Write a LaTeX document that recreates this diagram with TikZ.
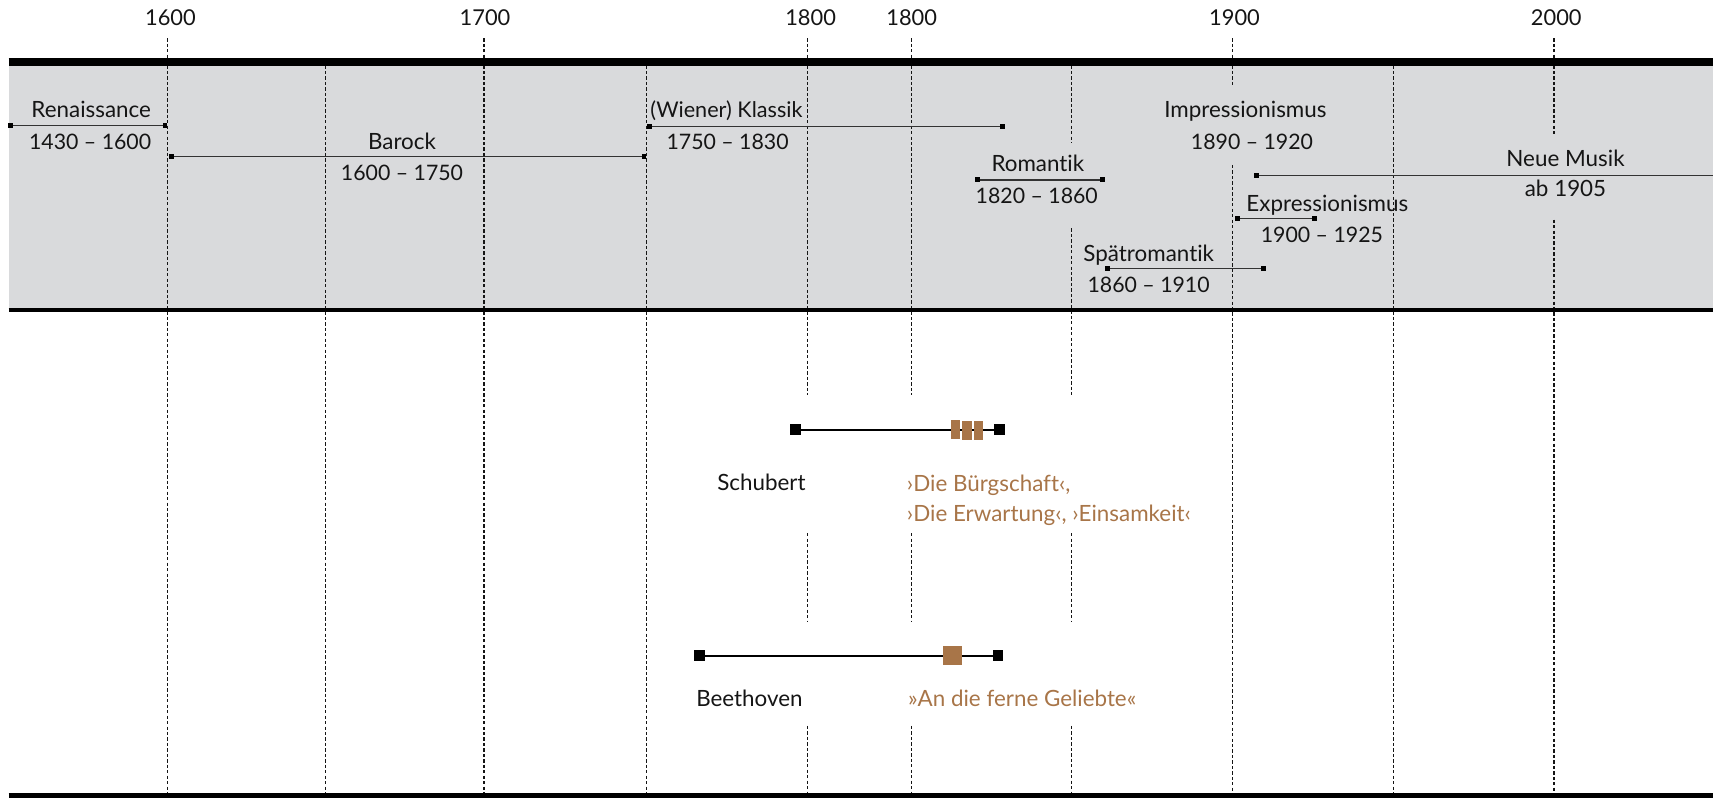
\documentclass[tikz,border=0pt]{standalone}
\usepackage{fontspec}
\setmainfont{Lato}[Ligatures=NoCommon]
\definecolor{band}{HTML}{D9DADC}
\definecolor{brn}{HTML}{A87548}
\definecolor{ink}{HTML}{151515}
\definecolor{pline}{HTML}{333333}
\begin{document}
\begin{tikzpicture}[x=1pt,y=-1pt,
  lbl/.style={font=\fontsize{20.5}{25}\selectfont, text=ink, inner sep=0pt, anchor=base},
  dat/.style={lbl, font=\fontsize{19.5}{24}\selectfont},
  yr/.style={lbl, font=\fontsize{20}{24}\selectfont},
  lbll/.style={lbl, anchor=base west},
  work/.style={lbll, text=brn},
  grid/.style={draw=ink, line width=1.1pt, dash pattern=on 3pt off 2pt},
  endsq/.style={fill=black, draw=none, minimum size=4.5pt, inner sep=0pt, outer sep=0pt},
  bigsq/.style={fill=black, draw=none, minimum size=10pt, inner sep=0pt, outer sep=0pt},
  perline/.style={draw=pline, line width=1.3pt},
  lifeline/.style={draw=black, line width=1.8pt},
  workmark/.style={fill=brn, draw=none, inner sep=0pt, outer sep=0pt, minimum width=8.8pt, minimum height=17.4pt},
  bar/.style={draw=black, line width=#1}
]
\useasboundingbox (0,0) rectangle (1568,730);
% gray band
\fill[band] (8,56.7) rectangle (1568,284);
% dashed grid lines
\draw[grid] (153,35) -- (153,730);
\draw[grid] (298,60) -- (298,730);
\draw[grid] (443,35) -- (443,730);
\draw[grid] (592,60) -- (592,730);
\foreach \x in {739,834}{
  \draw[grid] (\x,35) -- (\x,361.5);
  \draw[grid] (\x,488) -- (\x,569);
  \draw[grid] (\x,664.5) -- (\x,730);
}
\draw[grid] (980.5,60) -- (980.5,131);
\draw[grid] (980.5,209) -- (980.5,361.5);
\draw[grid] (980.5,488) -- (980.5,569);
\draw[grid] (980.5,664.5) -- (980.5,730);
\draw[grid] (1128.5,35) -- (1128.5,79);
\draw[grid] (1128.5,151) -- (1128.5,730);
\draw[grid] (1275.3,60) -- (1275.3,730);
\draw[grid] (1422.4,35) -- (1422.4,124);
\draw[grid] (1422.4,201) -- (1422.4,730);
% bars
\draw[bar=6.7pt] (8,56.7) -- (1568,56.7);
\draw[bar=3.8pt] (8,284) -- (1568,284);
\draw[bar=4.5pt] (8,728.5) -- (1568,728.5);
% year labels
\node[yr] (y1600) at (156,23.7) {1600};
\node[yr] (y1700) at (444,23.7) {1700};
\node[yr] (y1800a) at (742,23.7) {1800};
\node[yr] (y1800b) at (834.5,23.7) {1800};
\node[yr] (y1900) at (1130,23.7) {1900};
\node[yr] (y2000) at (1424.5,23.7) {2000};
% periods
\node[endsq] (renA) at (10,115) {};
\node[endsq] (renB) at (151,115) {};
\draw[perline] (renA) -- (renB);
\node[lbl] (renT) at (83.5,108) {Renaissance};
\node[dat] (renD) at (82.5,137) {1430 – 1600};

\node[endsq] (barA) at (157,143) {};
\node[endsq] (barB) at (589.5,143) {};
\draw[perline] (barA) -- (barB);
\node[lbl] (barT) at (368,137) {Barock};
\node[dat] (barD) at (368,165) {1600 – 1750};

\node[endsq] (klaA) at (594.4,116) {};
\node[endsq] (klaB) at (918,116) {};
\draw[perline] (klaA) -- (klaB);
\node[lbl, font=\fontsize{19.8}{24}\selectfont] (klaT) at (665,108) {(Wiener) Klassik};
\node[dat] (klaD) at (666,137) {1750 – 1830};

\node[endsq] (romA) at (894.4,164.6) {};
\node[endsq] (romB) at (1009,164.6) {};
\draw[perline] (romA) -- (romB);
\node[lbl] (romT) at (950,157) {Romantik};
\node[dat] (romD) at (949,186) {1820 – 1860};

\node[endsq] (sprA) at (1014,245.7) {};
\node[endsq] (sprB) at (1156.5,245.7) {};
\draw[perline] (sprA) -- (sprB);
\node[lbl] (sprT) at (1051.5,239) {Spätromantik};
\node[dat] (sprD) at (1051.4,268) {1860 – 1910};

\node[lbl] (impT) at (1140,108) {Impressionismus};
\node[dat] (impD) at (1146,137) {1890 – 1920};

\node[endsq] (neuA) at (1150.4,160.7) {};
\coordinate (neuB) at (1568,160.7);
\draw[perline] (neuA) -- (neuB);
\node[lbl] (neuT) at (1433,152) {Neue Musik};
\node[lbl] (neuD) at (1433,180) {ab 1905};

\node[endsq] (expA) at (1133,200) {};
\node[endsq] (expB) at (1203,200) {};
\draw[perline] (expA) -- (expB);
\node[lbl] (expT) at (1215,194) {Expressionismus};
\node[dat] (expD) at (1210,222) {1900 – 1925};

% Schubert
\node[bigsq] (schA) at (728,393.5) {};
\node[bigsq] (schB) at (915,393.5) {};
\draw[lifeline] (schA) -- (schB);
\node[workmark] (schW1) at (874.5,393.1) {};
\node[workmark] (schW2) at (885.4,394.2) {};
\node[workmark] (schW3) at (895.5,394.2) {};
\node[lbl] (schN) at (697,449) {Schubert};
\node[work] (schL1) at (830,450) {›Die Bürgschaft‹,};
\node[work] (schL2) at (830,477.4) {›Die Erwartung‹, ›Einsamkeit‹};

% Beethoven
\node[bigsq] (beeA) at (640,600.4) {};
\node[bigsq] (beeB) at (913.5,600.4) {};
\draw[lifeline] (beeA) -- (beeB);
\node[workmark, minimum width=17.5pt, minimum height=17.5pt] (beeW) at (872,600) {};
\node[lbl] (beeN) at (686,647) {Beethoven};
\node[work] (beeL) at (831,647) {»An die ferne Geliebte«};
\end{tikzpicture}
\end{document}
